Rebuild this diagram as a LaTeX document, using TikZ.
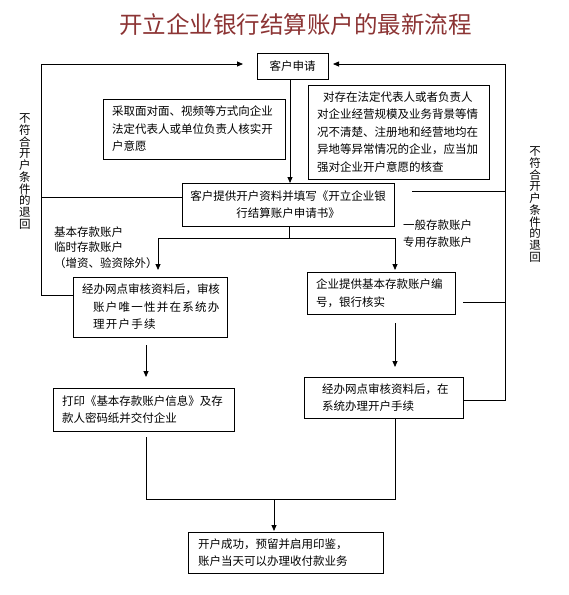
\documentclass[tikz,border=0pt]{standalone}
\usepackage{fontspec}
\setmainfont{Noto Sans CJK SC}
\usetikzlibrary{arrows.meta}
\definecolor{titlered}{RGB}{140,52,52}
\begin{document}
\begin{tikzpicture}[x=1pt,y=-1pt,
  box/.style={draw, line width=0.8pt, inner sep=0pt, align=left, font=\fontsize{11.5}{17.5}\selectfont},
  ln/.style={line width=0.8pt},
  arr/.style={ln, -{Triangle[length=6pt,width=5pt]}},
  lbl/.style={inner sep=0pt, align=left, anchor=west},
  vlbl/.style={inner sep=0pt, align=center, font=\fontsize{11.5}{11.7}\selectfont}]
\useasboundingbox (0,0) rectangle (569,595);

\node[font=\fontsize{23.5}{28}\selectfont, text=titlered, inner sep=0pt] (title) at (295.5,24.5) {开立企业银行结算账户的最新流程};

\node[box, minimum width=71pt, minimum height=26pt, align=center] (apply) at (292.5,66) {客户申请};
\node[box, minimum width=182pt, minimum height=60pt, text width=164pt] (verify) at (194,129)
  {采取面对面、视频等方式向企业\\法定代表人或单位负责人核实开\\户意愿};
\node[box, minimum width=181pt, minimum height=94pt, text width=163pt] (check) at (398.5,132)
  {\hspace*{6pt}对存在法定代表人或者负责人\\对企业经营规模及业务背景等情\\况不清楚、注册地和经营地均在\\异地等异常情况的企业，应当加\\强对企业开户意愿的核查};
\node[box, minimum width=212pt, minimum height=43pt, align=center] (submit) at (288,204.5)
  {客户提供开户资料并填写《开立企业银\\行结算账户申请书》};
\node[box, minimum width=154pt, minimum height=60pt, text width=136pt] (leftproc) at (150,307)
  {经办网点审核资料后，审核\\\hspace*{11pt}{\addfontfeature{LetterSpace=11}账户唯一性并在系统办}\\\hspace*{11pt}{\addfontfeature{LetterSpace=11}理开户手续}};
\node[box, minimum width=181pt, minimum height=43pt, text width=163pt] (print) at (143.5,409.5)
  {打印《基本存款账户信息》及存\\款人密码纸并交付企业};
\node[box, minimum width=148pt, minimum height=42pt, text width=130pt] (provide) at (381,293)
  {企业提供基本存款账户编\\号，银行核实};
\node[box, minimum width=159pt, minimum height=41pt, text width=123pt] (rightproc) at (383.5,397.5)
  {经办网点审核资料后，在\\系统办理开户手续};
\node[box, minimum width=195pt, minimum height=41pt, text width=175pt] (success) at (285.5,552.5)
  {开户成功，预留并启用印鉴，\\账户当天可以办理收付款业务};

\node[lbl, font=\fontsize{11.5}{15.5}\selectfont] (lab1) at (54,247.5) {基本存款账户\\临时存款账户\\（增资、验资除外）};
\node[lbl, font=\fontsize{11.5}{17}\selectfont] (lab2) at (403,234) {一般存款账户\\专用存款账户};

\node[vlbl] (vleft) at (25,171.5) {不\\符\\合\\开\\户\\条\\件\\的\\退\\回};
\node[vlbl] (vright) at (535,204.5) {不\\符\\合\\开\\户\\条\\件\\的\\退\\回};

% left return path
\coordinate (lp) at (73,295);
\draw[arr] (lp) -- (41.5,295) -- (41.5,64) -- (243,64);
\draw[ln] (41.5,197) -- (182,197);
% right return path
\coordinate (rp) at (463,400);
\draw[arr] (rp) -- (505,400) -- (505,64) -- (333,64);
\draw[ln] (412,191) -- (505,191);
\draw[ln] (463,302) -- (505,302);
% main flow
\draw[arr] (290,79) -- (290,183);
\draw[ln] (289,226) -- (289,238);
\draw[arr] (289,238) -- (158,238) -- (158,270);
\draw[arr] (289,238) -- (395,238) -- (395,270);
\draw[arr] (146,345) -- (146,377);
\draw[arr] (395,323) -- (395,367);
\draw[ln] (146,437) -- (146,499) -- (395,499) -- (395,418);
\draw[arr] (274,499) -- (274,531);
\end{tikzpicture}
\end{document}
